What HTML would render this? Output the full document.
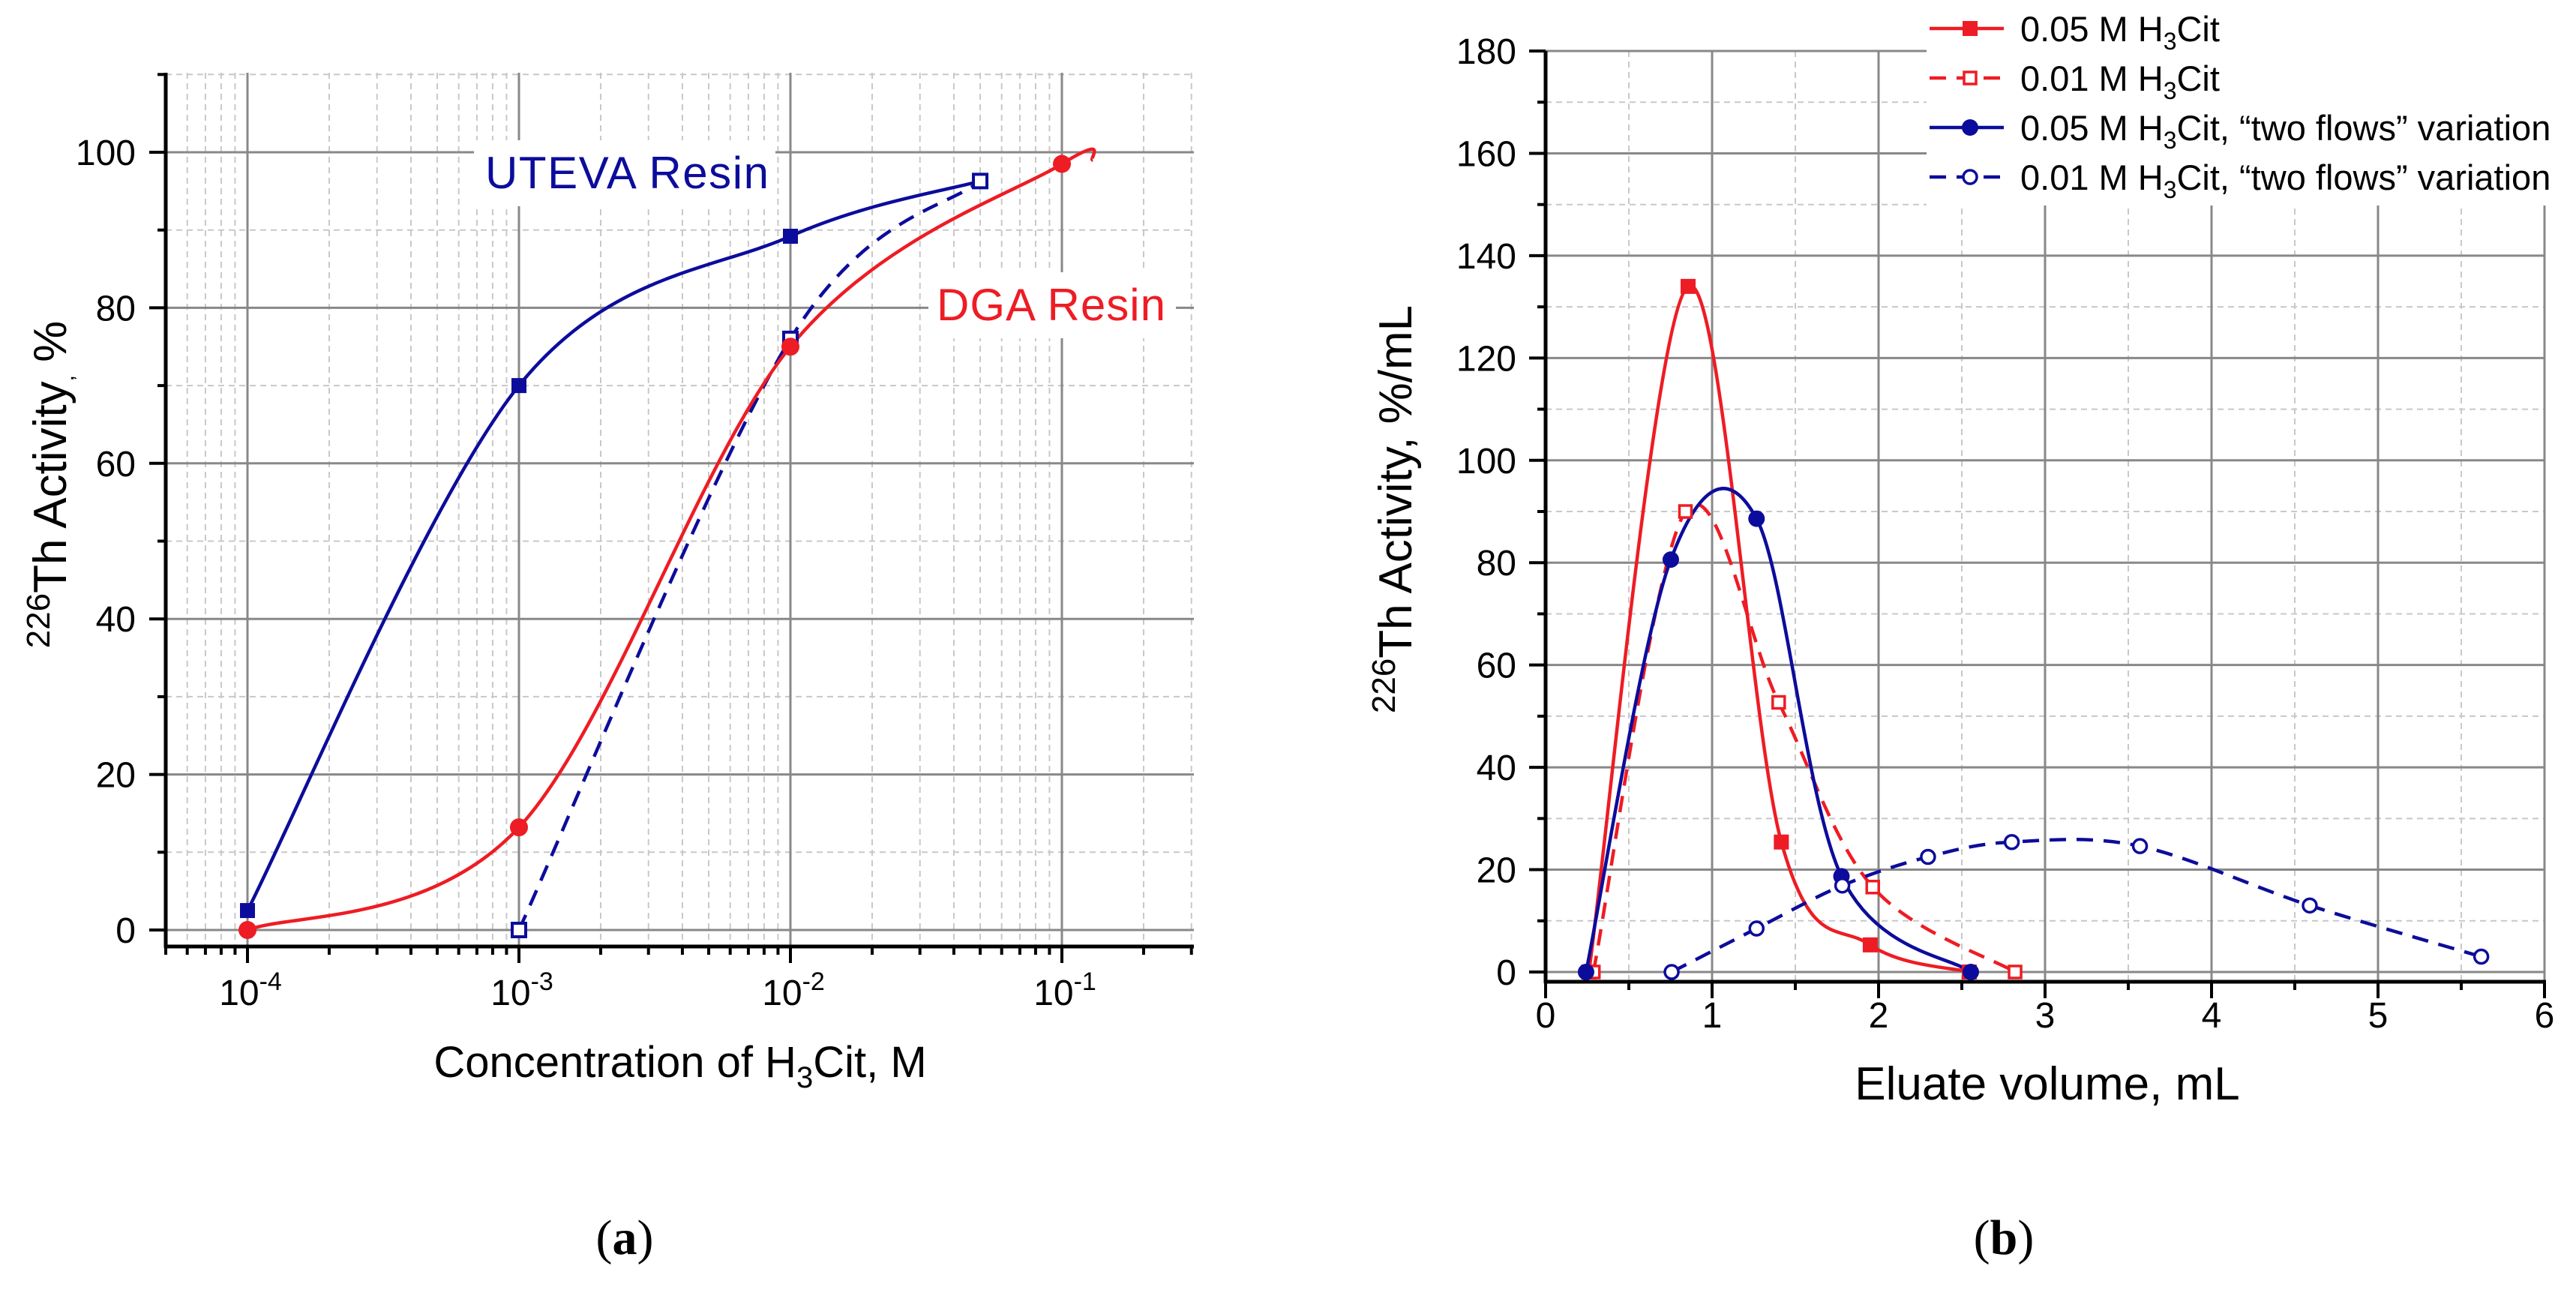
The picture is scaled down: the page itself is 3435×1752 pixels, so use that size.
<!DOCTYPE html>
<html><head><meta charset="utf-8"><style>
html,body{margin:0;padding:0;background:#fff;}
svg{display:block;font-family:"Liberation Sans",Arial,sans-serif;}
</style></head>
<body>
<svg id="fig" width="3435" height="1752" viewBox="0 0 3435 1752" xmlns="http://www.w3.org/2000/svg"></svg>
<script>
// ---------- Chart (a) data ----------
const aXTickExps = [-4, -3, -2, -1];
const aYTicks = [0, 20, 40, 60, 80, 100];
const utevaX = [1e-4, 1e-3, 1e-2, 0.05];
const utevaY = [2.5, 70, 89.2, 96.3];
const utevaDashX = [1e-3, 1e-2, 0.05];
const utevaDashY = [0, 76, 96.3];
const dgaX = [1e-4, 1e-3, 1e-2, 0.1, 0.13];
const dgaY = [0, 13.2, 75, 98.5, 99.0];
const dgaMarkerCount = 4;
// ---------- Chart (b) data ----------
const bXTicks = [0, 1, 2, 3, 4, 5, 6];
const bYTicks = [0, 20, 40, 60, 80, 100, 120, 140, 160, 180];
const s1X = [0.26, 0.856, 1.416, 1.95, 2.545];
const s1Y = [0, 134, 25.4, 5.3, 0];
const s2X = [0.287, 0.84, 1.40, 1.965, 2.82];
const s2Y = [0, 90, 52.7, 16.6, 0];
const s3X = [0.243, 0.752, 1.267, 1.777, 2.554];
const s3Y = [0, 80.6, 88.6, 18.7, 0];
const s4X = [0.757, 1.267, 1.782, 2.297, 2.80, 3.57, 4.59, 5.62];
const s4Y = [0, 8.5, 16.9, 22.5, 25.4, 24.6, 13, 3];
const legendLabels = ['0.05 M H|3|Cit', '0.01 M H|3|Cit', '0.05 M H|3|Cit, \u201ctwo flows\u201d variation', '0.01 M H|3|Cit, \u201ctwo flows\u201d variation'];

const RED = '#ee1c24', BLUE = '#0c0c9c';
const svg = document.getElementById('fig');
const NS = 'http://www.w3.org/2000/svg';
function mk(tag, attrs, parent) {
  const e = document.createElementNS(NS, tag);
  for (const k in attrs) e.setAttribute(k, attrs[k]);
  (parent || svg).appendChild(e);
  return e;
}
function spline(pts) {
  let d = 'M' + pts[0][0] + ',' + pts[0][1];
  for (let i = 0; i < pts.length - 1; i++) {
    const p0 = pts[i - 1] || pts[i], p1 = pts[i], p2 = pts[i + 1], p3 = pts[i + 2] || pts[i + 1];
    const c1 = [p1[0] + (p2[0] - p0[0]) / 6, p1[1] + (p2[1] - p0[1]) / 6];
    const c2 = [p2[0] - (p3[0] - p1[0]) / 6, p2[1] - (p3[1] - p1[1]) / 6];
    d += ' C' + c1 + ' ' + c2 + ' ' + p2;
  }
  return d;
}

// ================= Chart (a) =================
const aL = 221, aR = 1592, aT = 97, aB = 1262;
const ax = v => 330 + (Math.log10(v) + 4) * 362;
const ay = v => 1240 - v * 10.37;
const gA = mk('g', {});


for (let e = -5; e <= -1; e++) for (let m = 2; m <= 9; m++) {
  const x = ax(m * Math.pow(10, e));
  if (x < aL || x > aR) continue;
  const l = mk('line', {x1: x, x2: x, y1: aT, y2: aB, stroke: '#c8c8c8', 'stroke-width': 2, 'stroke-dasharray': '8,6'}, gA);
   
}
for (let v = 10; v <= 110; v += 20) {
  const l = mk('line', {x1: aL, x2: aR, y1: ay(v), y2: ay(v), stroke: '#c8c8c8', 'stroke-width': 2, 'stroke-dasharray': '8,6'}, gA);
   
}
aXTickExps.forEach(e => {
  const l = mk('line', {x1: ax(Math.pow(10, e)), x2: ax(Math.pow(10, e)), y1: aT, y2: aB, stroke: '#888', 'stroke-width': 3}, gA);
   
});
aYTicks.forEach(v => {
  const l = mk('line', {x1: aL, x2: aR, y1: ay(v), y2: ay(v), stroke: '#888', 'stroke-width': 3}, gA);
   
});
const bg1 = mk('rect', {x: 632, y: 187, width: 402, height: 88, fill: '#fff'}, gA);
 
const bg2 = mk('rect', {x: 1238, y: 363, width: 330, height: 88, fill: '#fff'}, gA);
 
const aAxY = mk('line', {x1: aL, x2: aL, y1: aT, y2: aB + 2, stroke: '#000', 'stroke-width': 5}, gA);
 
const aAxX = mk('line', {x1: aL - 2, x2: aR, y1: aB, y2: aB, stroke: '#000', 'stroke-width': 5}, gA);
 
for (let e = -5; e <= -1; e++) for (let m = 1; m <= 9; m++) {
  const x = ax(m * Math.pow(10, e));
  if (x < aL || x > aR + 1) continue;
  const len = m === 1 ? 22 : 11;
  const t = mk('line', {x1: x, x2: x, y1: aB, y2: aB + len, stroke: '#000', 'stroke-width': 4}, gA);
   
}
for (let v = 0; v <= 110; v += 10) {
  const len = v % 20 === 0 ? 22 : 11;
  const t = mk('line', {x1: aL - len, x2: aL, y1: ay(v), y2: ay(v), stroke: '#000', 'stroke-width': 4}, gA);
   
}
aYTicks.forEach(v => {
  const t = mk('text', {x: 181, y: ay(v) + 17, 'text-anchor': 'end', 'font-size': 48}, gA);
  t.textContent = v;
   
});
aXTickExps.forEach(e => {
  const t = mk('text', {x: ax(Math.pow(10, e)) + 4, y: 1340, 'text-anchor': 'middle', 'font-size': 48}, gA);
  t.innerHTML = '10<tspan dy="-20" font-size="34">' + e + '</tspan>';
   
});
const pU = mk('path', {d: spline(utevaX.map((x, i) => [ax(x), ay(utevaY[i])])), fill: 'none', stroke: BLUE, 'stroke-width': 4.5}, gA);
 
const pUd = mk('path', {d: spline(utevaDashX.map((x, i) => [ax(x), ay(utevaDashY[i])])), fill: 'none', stroke: BLUE, 'stroke-width': 4.5, 'stroke-dasharray': '22,14'}, gA);
 
const pD = mk('path', {d: spline(dgaX.map((x, i) => [ax(x), ay(dgaY[i])])), fill: 'none', stroke: RED, 'stroke-width': 4.5}, gA);
 
utevaX.slice(0, 3).forEach((x, i) => {
  const r = mk('rect', {x: ax(x) - 10, y: ay(utevaY[i]) - 10, width: 20, height: 20, fill: BLUE}, gA);
   
});
utevaDashX.forEach((x, i) => {
  const r = mk('rect', {x: ax(x) - 9, y: ay(utevaDashY[i]) - 9, width: 18, height: 18, fill: '#fff', stroke: BLUE, 'stroke-width': 4}, gA);
   
});
dgaX.slice(0, dgaMarkerCount).forEach((x, i) => {
  const c = mk('circle', {cx: ax(x), cy: ay(dgaY[i]), r: 12, fill: RED}, gA);
   
});
let t = mk('text', {x: 647, y: 251, 'font-size': 60, fill: BLUE, textLength: 378}, gA);
t.textContent = 'UTEVA Resin';  
t = mk('text', {x: 1249, y: 427, 'font-size': 60, fill: RED, textLength: 305}, gA);
t.textContent = 'DGA Resin';  
t = mk('text', {x: 907, y: 1436, 'text-anchor': 'middle', 'font-size': 58}, gA);
t.innerHTML = 'Concentration of H<tspan dy="14" font-size="40">3</tspan><tspan dy="-14">Cit, M</tspan>';
 
t = mk('text', {x: 0, y: 0, 'text-anchor': 'middle', 'font-size': 62, transform: 'translate(88,646) rotate(-90)'}, gA);
t.innerHTML = '<tspan dy="-22" font-size="44">226</tspan><tspan dy="22">Th Activity</tspan><tspan font-size="30" dy="10">,</tspan><tspan dy="-10"> %</tspan>';
 
t = mk('text', {x: 833, y: 1672, 'text-anchor': 'middle', 'font-size': 66, 'font-family': '"Liberation Serif",serif'}, gA);
t.innerHTML = '(<tspan font-weight="bold">a</tspan>)';
 

// ================= Chart (b) =================
const bL = 2061, bR = 3393, bT = 68, bB = 1309;
const bx = v => 2061 + v * 222;
const by = v => 1296 - v * 6.822;
const gB = mk('g', {});


for (let v = 0.5; v < 6; v += 1) {
  const l = mk('line', {x1: bx(v), x2: bx(v), y1: bT, y2: bB, stroke: '#c8c8c8', 'stroke-width': 2, 'stroke-dasharray': '8,6'}, gB);
   
}
for (let v = 10; v < 180; v += 20) {
  const l = mk('line', {x1: bL, x2: bR, y1: by(v), y2: by(v), stroke: '#c8c8c8', 'stroke-width': 2, 'stroke-dasharray': '8,6'}, gB);
   
}
bXTicks.slice(1).forEach(v => {
  const l = mk('line', {x1: bx(v), x2: bx(v), y1: bT, y2: bB, stroke: '#888', 'stroke-width': 3}, gB);
   
});
bYTicks.forEach(v => {
  const l = mk('line', {x1: bL, x2: bR, y1: by(v), y2: by(v), stroke: '#888', 'stroke-width': 3}, gB);
   
});
const lbg = mk('rect', {x: 2569, y: 0, width: 840, height: 274, fill: '#fff'}, gB);
 
const bAxY = mk('line', {x1: bL, x2: bL, y1: bT, y2: bB + 2, stroke: '#000', 'stroke-width': 5}, gB);
 
const bAxX = mk('line', {x1: bL - 2, x2: bR + 2, y1: bB, y2: bB, stroke: '#000', 'stroke-width': 5}, gB);
 
for (let v = 0; v <= 6; v += 0.5) {
  const len = Number.isInteger(v) ? 22 : 11;
  const tk = mk('line', {x1: bx(v), x2: bx(v), y1: bB, y2: bB + len, stroke: '#000', 'stroke-width': 4}, gB);
   
}
for (let v = 0; v <= 180; v += 10) {
  const len = v % 20 === 0 ? 22 : 11;
  const tk = mk('line', {x1: bL - len, x2: bL, y1: by(v), y2: by(v), stroke: '#000', 'stroke-width': 4}, gB);
   
}
bYTicks.forEach(v => {
  const tt = mk('text', {x: 2022, y: by(v) + 17, 'text-anchor': 'end', 'font-size': 48}, gB);
  tt.textContent = v;
   
});
bXTicks.forEach(v => {
  const tt = mk('text', {x: bx(v), y: 1370, 'text-anchor': 'middle', 'font-size': 48}, gB);
  tt.textContent = v;
   
});
const series = [
  {x: s1X, y: s1Y, c: RED, dash: null, m: 'sq', fill: true, name: 'series-005-h3cit'},
  {x: s2X, y: s2Y, c: RED, dash: '22,14', m: 'sq', fill: false, name: 'series-001-h3cit'},
  {x: s3X, y: s3Y, c: BLUE, dash: null, m: 'ci', fill: true, name: 'series-005-two-flows'},
  {x: s4X, y: s4Y, c: BLUE, dash: '22,14', m: 'ci', fill: false, name: 'series-001-two-flows'}
];
function marker(s, cx, cy, g, nm) {
  let e;
  if (s.m === 'sq') {
    const h = s.fill ? 10 : 8;
    e = mk('rect', {x: cx - h, y: cy - h, width: 2 * h, height: 2 * h, fill: s.fill ? s.c : '#fff', stroke: s.fill ? 'none' : s.c, 'stroke-width': 3.5}, g);
  } else {
    e = mk('circle', {cx: cx, cy: cy, r: s.fill ? 11 : 9, fill: s.fill ? s.c : '#fff', stroke: s.fill ? 'none' : s.c, 'stroke-width': 3.5}, g);
  }
  
  
}
series.forEach(s => {
  const p = mk('path', {d: spline(s.x.map((x, i) => [bx(x), by(s.y[i])])), fill: 'none', stroke: s.c, 'stroke-width': 4.5}, gB);
  if (s.dash) p.setAttribute('stroke-dasharray', s.dash);
  
  
});
series.forEach(s => {
  s.x.forEach((x, i) => marker(s, bx(x), by(s.y[i]), gB, s.name + '-point'));
});
const legY = [38, 104, 170, 236];
series.forEach((s, i) => {
  const lg = mk('g', {}, gB);
  
  
  const ln = mk('line', {x1: 2573, x2: 2672, y1: legY[i], y2: legY[i], stroke: s.c, 'stroke-width': 4.5}, lg);
  if (s.dash) ln.setAttribute('stroke-dasharray', '22,14');
  
  
  marker(s, 2627, legY[i], lg, 'legend-marker');
  const parts = legendLabels[i].split('|');
  const tx = mk('text', {x: 2694, y: legY[i] + 17, 'font-size': 47}, lg);
  tx.innerHTML = parts[0] + '<tspan dy="11" font-size="32">' + parts[1] + '</tspan><tspan dy="-11">' + parts[2] + '</tspan>';
  
  
});
t = mk('text', {x: 2730, y: 1466, 'text-anchor': 'middle', 'font-size': 62}, gB);
t.textContent = 'Eluate volume, mL';
 
t = mk('text', {x: 0, y: 0, 'text-anchor': 'middle', 'font-size': 62, transform: 'translate(1882,679) rotate(-90)'}, gB);
t.innerHTML = '<tspan dy="-22" font-size="44">226</tspan><tspan dy="22">Th Activity,  %/mL</tspan>';
 
t = mk('text', {x: 2672, y: 1672, 'text-anchor': 'middle', 'font-size': 66, 'font-family': '"Liberation Serif",serif'}, gB);
t.innerHTML = '(<tspan font-weight="bold">b</tspan>)';
 
</script>
</body></html>
